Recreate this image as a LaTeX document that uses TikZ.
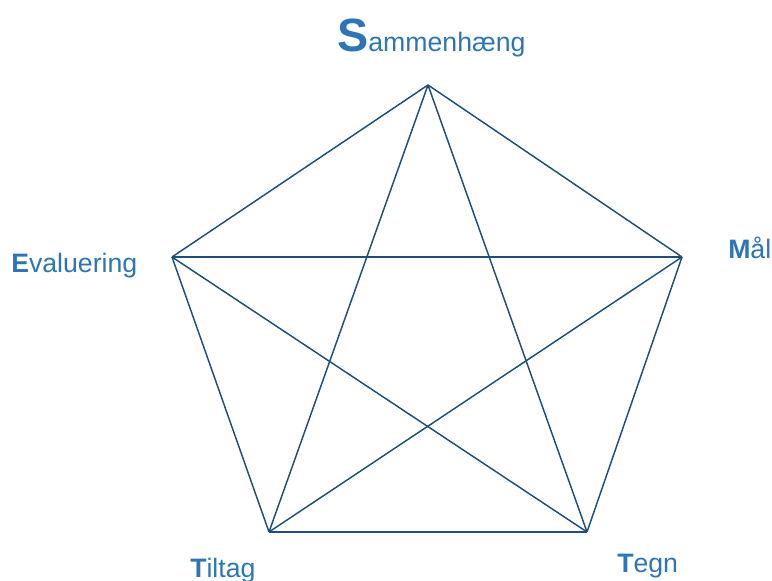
\documentclass[tikz,border=0pt]{standalone}
\usepackage{fontspec}
\setmainfont{Liberation Sans}
\usepackage{tikz}
\usetikzlibrary{positioning}
\definecolor{Navy}{HTML}{1F4E79}
\definecolor{Blue}{HTML}{2E75B6}
\newcommand{\initial}[1]{{\bfseries #1}}
\tikzset{
  corner label/.style={anchor=base west,inner sep=0pt,text=Blue,font=\fontsize{20}{24}\selectfont},
  edge/.style={draw=Navy,line width=1.1pt}
}
\begin{document}
\begin{tikzpicture}[x=0.75pt,y=-0.75pt]
        \useasboundingbox (0,0) rectangle (772,581);
        \coordinate (S) at (428,85);
        \coordinate (M) at (682,257);
        \coordinate (T) at (587,532);
        \coordinate (Ti) at (269,532);
        \coordinate (E) at (172,257);
        \foreach \a/\b in {S/M,M/T,T/Ti,Ti/E,E/S,S/T,S/Ti,E/M,E/T,M/Ti}
          \draw[edge] (\a) -- (\b);
        \node[corner label] (lS) at (337,52) {{\fontsize{35}{40}\selectfont\initial{S}}ammenhæng};
        \node[corner label] (lE) at (11,273) {\initial{E}valuering};
        \node[corner label] (lM) at (728,259) {\initial{M}ål};
        \node[corner label] (lTi) at (190,577) {\initial{T}iltag};
        \node[corner label] (lT) at (617,572) {\initial{T}egn};
      \end{tikzpicture}
\end{document}
